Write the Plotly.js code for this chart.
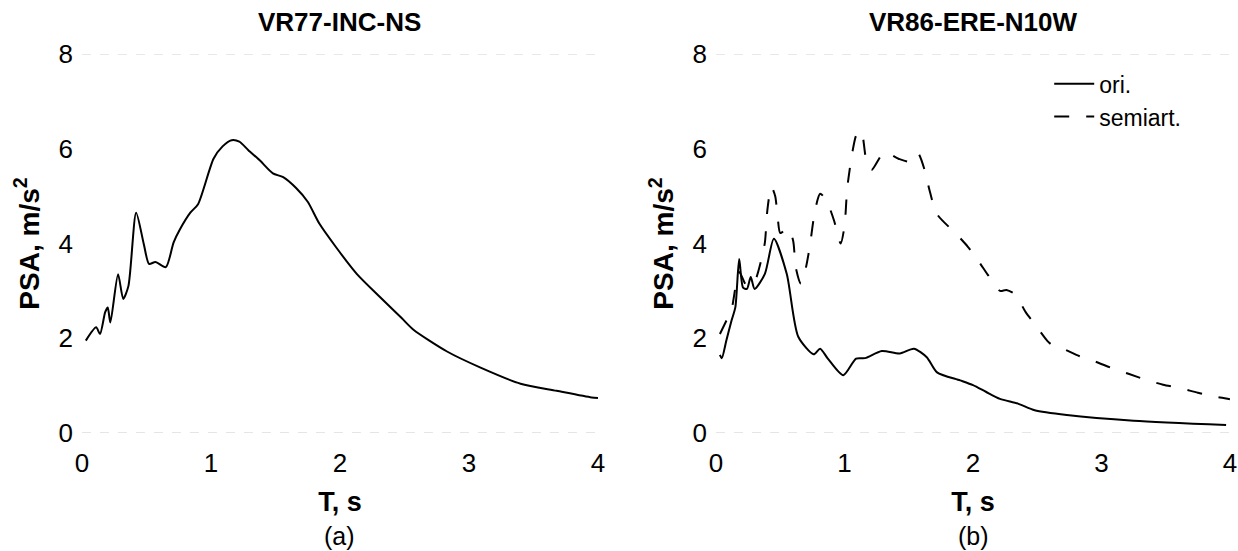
<!DOCTYPE html>
<html>
<head>
<meta charset="utf-8">
<script src="https://cdn.plot.ly/plotly-3.0.1.min.js"></script>
<style>html,body{margin:0;padding:0;background:#fff;}#chart{width:1238px;height:551px;}</style>
</head>
<body>
<div id="chart"></div>
<script>
// (a) VR77-INC-NS, original record
const aT = [0.03,0.11,0.14,0.18,0.20,0.22,0.28,0.32,0.36,0.42,0.48,0.52,0.57,0.65,0.71,0.76,0.84,0.90,1.02,1.09,1.16,1.22,1.29,1.38,1.48,1.56,1.66,1.75,1.84,1.97,2.13,2.31,2.48,2.57,2.83,3.09,3.40,3.68,3.95,4.00];
const aPSA = [1.95,2.23,2.09,2.55,2.65,2.33,3.35,2.83,3.10,4.65,3.98,3.57,3.61,3.50,4.02,4.30,4.65,4.83,5.79,6.05,6.18,6.15,5.97,5.75,5.48,5.40,5.17,4.88,4.42,3.92,3.36,2.87,2.42,2.18,1.72,1.38,1.04,0.89,0.75,0.74];

// (b) VR86-ERE-N10W, original record
const bT = [0.03,0.045,0.08,0.12,0.15,0.18,0.21,0.24,0.27,0.30,0.38,0.45,0.55,0.64,0.76,0.81,0.87,0.99,1.09,1.16,1.29,1.43,1.54,1.64,1.72,1.90,2.00,2.10,2.21,2.35,2.48,2.73,3.25,3.97];
const bOri = [1.65,1.58,1.95,2.37,2.65,3.67,3.07,3.04,3.29,3.04,3.36,4.10,3.36,2.03,1.66,1.78,1.57,1.22,1.57,1.58,1.73,1.68,1.78,1.60,1.28,1.11,1.01,0.87,0.72,0.62,0.48,0.38,0.26,0.17];

// (b) VR86-ERE-N10W, semi-artificial record
const sT = [0.03,0.08,0.12,0.18,0.24,0.30,0.35,0.38,0.40,0.43,0.46,0.48,0.50,0.56,0.60,0.62,0.66,0.70,0.73,0.77,0.81,0.85,0.88,0.92,0.97,1.00,1.02,1.04,1.06,1.09,1.12,1.14,1.17,1.21,1.31,1.42,1.51,1.57,1.63,1.66,1.72,1.87,1.96,2.05,2.12,2.21,2.26,2.33,2.41,2.48,2.58,2.62,2.69,2.83,2.95,3.09,3.21,3.36,3.48,3.62,3.75,3.90,3.97,4.00];
const sPSA = [2.09,2.37,2.60,3.40,3.10,3.20,3.63,4.02,4.72,5.20,5.00,4.54,4.22,4.33,4.06,3.50,3.15,3.50,3.95,4.69,5.05,4.95,4.78,4.47,4.00,4.37,5.14,5.56,5.91,6.28,6.38,6.28,5.75,5.55,5.93,5.79,5.73,5.91,5.49,5.14,4.62,4.20,3.93,3.60,3.32,3.00,3.02,2.92,2.55,2.30,1.94,1.85,1.79,1.62,1.51,1.36,1.25,1.11,1.02,0.94,0.85,0.76,0.73,0.71];

const xTicks = [0,1,2,3,4];
const yTicks = [0,2,4,6,8];

const FONT = 'Liberation Sans, Arial, Helvetica, sans-serif';
const lineBase = {color:'#000', width:2, shape:'spline', smoothing:0.7};

const traces = [
  {x:aT, y:aPSA, type:'scatter', mode:'lines', line:lineBase, showlegend:false, xaxis:'x', yaxis:'y', name:'ori.'},
  {x:bT, y:bOri, type:'scatter', mode:'lines', line:lineBase, name:'ori.', xaxis:'x2', yaxis:'y2'},
  {x:sT, y:sPSA, type:'scatter', mode:'lines', line:Object.assign({}, lineBase, {dash:'15px,17px'}), name:'semiart.', xaxis:'x2', yaxis:'y2'}
];

function xAx(domain, anchor){
  return {domain:domain, anchor:anchor, range:[0,4], tickvals:xTicks, ticktext:xTicks.map(String),
    showgrid:false, zeroline:false, showline:false, ticks:'', ticklabelstandoff:12,
    tickfont:{family:FONT, size:26, color:'#000'},
    title:{text:'T, s', font:{family:FONT, size:27, color:'#000', weight:'bold'}, standoff:15}};
}
function yAx(anchor){
  return {domain:[0.2142,0.9020], anchor:anchor, range:[0,8], tickvals:yTicks, ticktext:yTicks.map(String),
    showgrid:false, zeroline:false, showline:false, ticks:'', ticklabelstandoff:8,
    tickfont:{family:FONT, size:26, color:'#000'},
    title:{text:'PSA, m/s<sup>2</sup>', font:{family:FONT, size:28, color:'#000', weight:'bold'}, standoff:10}};
}

const faint = {color:'#cfcfcf', width:1, dash:'dash'};
const shapes = [];
[['x','y'],['x2','y2']].forEach(([xr,yr])=>{
  [0,8].forEach(v=>shapes.push({type:'line', xref:xr, yref:yr, x0:0, x1:4, y0:v, y1:v, line:faint, layer:'below'}));
});

const layout = {
  width:1238, height:551, margin:{l:0,r:0,t:0,b:0},
  paper_bgcolor:'#fff', plot_bgcolor:'#fff',
  font:{family:FONT, color:'#000'},
  xaxis: xAx([0.0662,0.4830],'y'),
  yaxis: yAx('x'),
  xaxis2: xAx([0.5784,0.9935],'y2'),
  yaxis2: yAx('x2'),
  shapes: shapes,
  showlegend:true,
  legend:{x:0.8475, y:0.887, xanchor:'left', yanchor:'top', bgcolor:'rgba(0,0,0,0)',
    font:{family:FONT, size:23, color:'#000'}, tracegroupgap:0, itemwidth:40},
  annotations:[
    {text:'VR77-INC-NS', xref:'paper', yref:'paper', x:340/1238, y:(551-22)/551, showarrow:false,
      font:{family:FONT, size:26, color:'#000', weight:'bold'}, xanchor:'center', yanchor:'middle'},
    {text:'VR86-ERE-N10W', xref:'paper', yref:'paper', x:973/1238, y:(551-22)/551, showarrow:false,
      font:{family:FONT, size:26, color:'#000', weight:'bold'}, xanchor:'center', yanchor:'middle'},
    {text:'(a)', xref:'paper', yref:'paper', x:340/1238, y:(551-536)/551, showarrow:false,
      font:{family:FONT, size:25, color:'#000'}, xanchor:'center', yanchor:'middle'},
    {text:'(b)', xref:'paper', yref:'paper', x:973/1238, y:(551-536)/551, showarrow:false,
      font:{family:FONT, size:25, color:'#000'}, xanchor:'center', yanchor:'middle'}
  ]
};

Plotly.newPlot('chart', traces, layout, {staticPlot:true, displayModeBar:false});
</script>
</body>
</html>
